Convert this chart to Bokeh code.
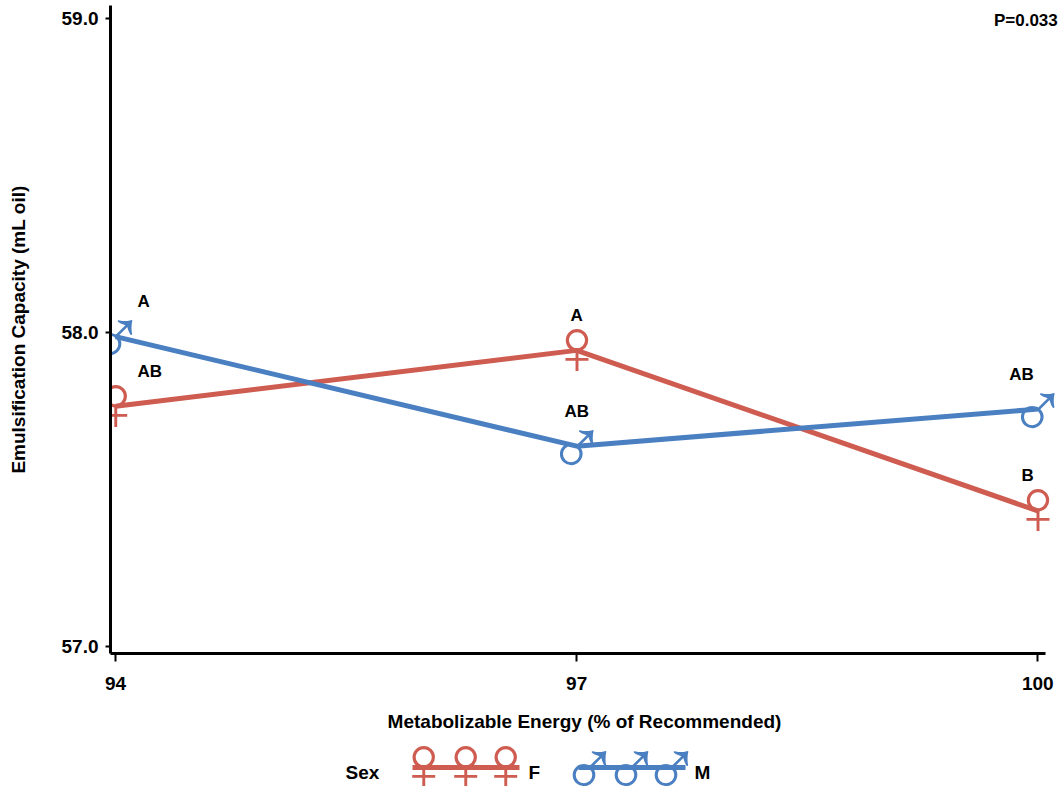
from bokeh.plotting import figure
from bokeh.models import Range1d, FixedTicker, ColumnDataSource, Label, NumeralTickFormatter
from bokeh.layouts import column
from bokeh.core.properties import value
from bokeh.embed import file_html
from bokeh.resources import INLINE

# ---- data ----
energy = [94, 97, 100]
female = [57.765, 57.943, 57.432]
male = [57.987, 57.638, 57.756]
female_letters = ["AB", "A", "B"]
male_letters = ["A", "AB", "AB"]
x_ticks = [94, 97, 100]
y_ticks = [57.0, 58.0, 59.0]
sex_levels = ["F", "M"]
p_text = "P=0.033"
x_title = "Metabolizable Energy (% of Recommended)"
y_title = "Emulsification Capacity (mL oil)"

# ---- styles ----
RED = "#CF5C51"
BLUE = "#4A7FC1"
FONT = "Liberation Sans"
SYMFONT = "Liberation Sans"
FS_AX = "19px"
FS = "17px"
SYM_FS = "80px"
W = 1060
H_MAIN = 734
H_LEG = 52
BORDER_L, BORDER_R = 110, 2
X_START, X_AXIS_END, X_END = 93.967, 100.052, 100.135
F_DY, M_DY = -4, -2

p = figure(width=W, height=H_MAIN, output_backend="svg", toolbar_location=None,
           x_range=Range1d(X_START, X_END), y_range=Range1d(56.978, 59.041),
           min_border_left=BORDER_L, min_border_right=BORDER_R, min_border_top=5,
           min_border_bottom=79)
p.outline_line_color = None
p.grid.visible = False
p.background_fill_color = "white"

for ax in (p.xaxis[0], p.yaxis[0]):
    ax.axis_line_width = 3
    ax.axis_line_color = "black"
    ax.major_tick_line_width = 2
    ax.major_tick_in = 0
    ax.minor_tick_line_color = None
    ax.major_label_text_font = FONT
    ax.major_label_text_font_style = "bold"
    ax.major_label_text_font_size = FS_AX
    ax.major_label_text_color = "black"
    ax.axis_label_text_font = FONT
    ax.axis_label_text_font_style = "bold"
    ax.axis_label_text_font_size = FS_AX
    ax.axis_label_text_color = "black"

p.xaxis.ticker = FixedTicker(ticks=x_ticks)
p.xaxis.bounds = (X_START, X_AXIS_END)
p.xaxis.major_tick_out = 8
p.xaxis.major_label_standoff = 15
p.xaxis.axis_label = x_title
p.xaxis.axis_label_standoff = 18

p.yaxis.ticker = FixedTicker(ticks=y_ticks)
p.yaxis.formatter = NumeralTickFormatter(format="0.0")
p.yaxis.major_tick_out = 5
p.yaxis.major_label_standoff = 7
p.yaxis.axis_label = y_title
p.yaxis.axis_label_standoff = 30

# lines
p.line(energy, female, line_color=RED, line_width=5)
p.line(energy, male, line_color=BLUE, line_width=5)

# markers (female / male symbols)
fsrc = ColumnDataSource(dict(x=energy, y=female, s=["\u2640"] * len(energy)))
msrc = ColumnDataSource(dict(x=energy, y=male, s=["\u2642"] * len(energy)))
p.text("x", "y", text="s", source=fsrc, text_color=RED, text_font=value(SYMFONT),
       text_font_size=SYM_FS, text_font_style="bold", text_align="center",
       text_baseline="middle", y_offset=F_DY)
p.text("x", "y", text="s", source=msrc, text_color=BLUE, text_font=value(SYMFONT),
       text_font_size=SYM_FS, text_font_style="bold", text_align="center",
       text_baseline="middle", y_offset=M_DY)

# letter labels
aligns = ["left", "center", "right"]
xoffs = [22, 0, -4]
for vals, letters in ((female, female_letters), (male, male_letters)):
    src = ColumnDataSource(dict(x=energy, y=vals, t=letters, a=aligns, xo=xoffs))
    p.text("x", "y", text="t", source=src, text_align="a", x_offset="xo", y_offset=-35,
           text_baseline="middle", text_font=value(FONT), text_font_style="bold",
           text_font_size=FS, text_color="black")

p.add_layout(Label(x=x_ticks[-1], y=y_ticks[-1], text=p_text, text_align="right",
                   text_baseline="middle", x_offset=20, y_offset=-2,
                   text_font=FONT, text_font_style="bold", text_font_size=FS,
                   text_color="black"))

# ---- legend (separate strip; its frame is aligned with the main frame) ----
leg = figure(width=W, height=H_LEG, output_backend="svg", toolbar_location=None,
             x_range=Range1d(BORDER_L, W - BORDER_R), y_range=Range1d(0, H_LEG),
             x_axis_location=None, y_axis_location=None, min_border=0,
             min_border_left=BORDER_L, min_border_right=BORDER_R)
leg.grid.visible = False
leg.outline_line_color = None
LY = 19
leg.text([345], [LY - 5], text=["Sex"], text_align="left", text_baseline="middle",
         text_font=value(FONT), text_font_style="bold", text_font_size=FS_AX, text_color="black")
colors = [RED, BLUE]
syms = ["\u2640", "\u2642"]
starts = [412, 578]
sym_dy = [F_DY, M_DY]
for lvl, col, sym, x0, dy in zip(sex_levels, colors, syms, starts, sym_dy):
    leg.line([x0, x0 + 107], [LY, LY], line_color=col, line_width=5)
    xs = [x0 + 11, x0 + 53, x0 + 93]
    leg.text(xs, [LY] * 3, text=[sym] * 3, text_color=col, text_font=value(SYMFONT),
             text_font_size=SYM_FS, text_font_style="bold", text_align="center",
             text_baseline="middle", y_offset=dy)
    leg.text([x0 + 116], [LY - 5], text=[lvl], text_align="left", text_baseline="middle",
             text_font=value(FONT), text_font_style="bold", text_font_size=FS_AX, text_color="black")

layout = column(p, leg, spacing=0)
open("out.html", "w").write(file_html(layout, INLINE))
